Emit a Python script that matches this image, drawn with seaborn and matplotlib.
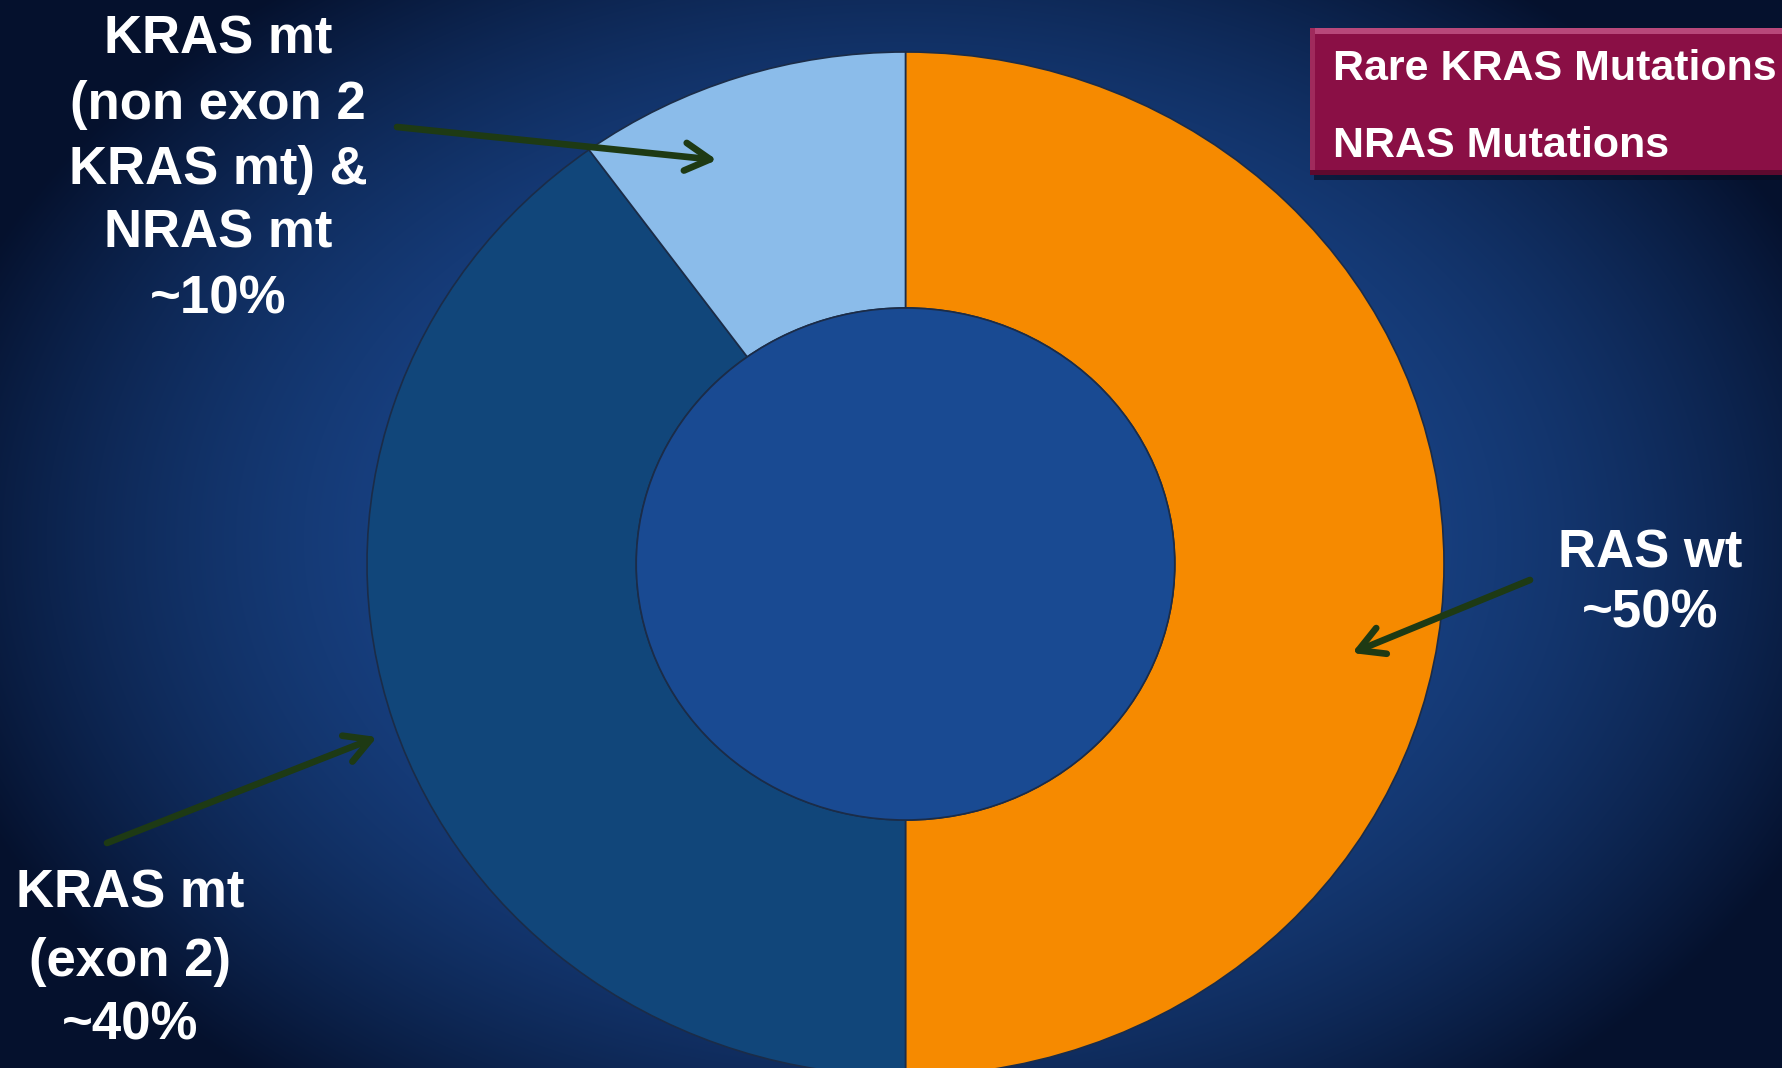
import numpy as np
import matplotlib
matplotlib.use("Agg")
import matplotlib.pyplot as plt
from matplotlib.patches import Rectangle, Circle, FancyArrowPatch
import seaborn as sns

# --- data -------------------------------------------------------------
segments = ["RAS wt", "KRAS mt (exon 2)", "KRAS mt (non exon 2) & NRAS mt"]
shares = [50, 40, 10]
segment_colors = ["#F68A00", "#11467A", "#8BBCEA"]

label_wt = ["RAS wt", "~50%"]
label_exon2 = ["KRAS mt", "(exon 2)", "~40%"]
label_other = ["KRAS mt", "(non exon 2", "KRAS mt) &", "NRAS mt", "~10%"]
legend_items = ["Rare KRAS Mutations", "NRAS Mutations"]

# --- style ------------------------------------------------------------
sns.set_theme(style="white")
plt.rcParams["font.family"] = ["Liberation Sans", "DejaVu Sans"]
palette = sns.color_palette(segment_colors)

W, H = 1783, 1068
fig = plt.figure(figsize=(W / 100, H / 100), dpi=100)

# radial blue background
bg = fig.add_axes([0, 0, 1, 1])
bg.set_axis_off()
yy, xx = np.mgrid[0:H, 0:W]
r = np.sqrt(((xx - 900) / 1000) ** 2 + ((yy - 540) / 700) ** 2)
t = np.clip(r, 0, 1) ** 2.3
c_in = np.array([28, 76, 150]) / 255
c_out = np.array([5, 17, 45]) / 255
img = c_in * (1 - t[..., None]) + c_out * t[..., None]
bg.imshow(img, extent=[0, W, H, 0], aspect="auto", zorder=0)
bg.set_xlim(0, W)
bg.set_ylim(H, 0)

# donut chart
cx, cy = 905.5, H - 564
rx, ry = 538.5, 512
ax = fig.add_axes([(cx - rx) / W, (cy - ry) / H, 2 * rx / W, 2 * ry / H])
ax.patch.set_alpha(0)
ax.pie(shares, colors=palette, startangle=90, counterclock=False, radius=1,
       wedgeprops=dict(width=0.5, edgecolor="#1b2c48", linewidth=1.2))
ax.add_patch(Circle((0, 0), 0.5, facecolor="#194A92", edgecolor="#1b2c48",
                    linewidth=1.2, zorder=5))
ax.set_aspect("auto")
ax.set_xlim(-1, 1)
ax.set_ylim(-1, 1)
ax.set_axis_off()

# overlay for labels, arrows and the key box
ov = fig.add_axes([0, 0, 1, 1])
ov.set_axis_off()
ov.patch.set_alpha(0)
ov.set_xlim(0, W)
ov.set_ylim(H, 0)

txt = dict(color="white", fontsize=38, fontweight="bold", ha="center", va="baseline")
for line, y in zip(label_other, [53, 119, 184, 248, 313]):
    ov.text(218, y, line, **txt)
for line, y in zip(label_exon2, [908, 976, 1040]):
    ov.text(130, y, line, **txt)
for line, y in zip(label_wt, [567, 628]):
    ov.text(1650, y, line, **txt)

arrow_color = "#1E3A14"
for a, b in [((397, 127), (717, 160)), ((107, 843), (377, 737)), ((1530, 580), (1352, 653))]:
    ov.add_patch(FancyArrowPatch(a, b, arrowstyle="->,head_length=1.8,head_width=1.0",
                                 mutation_scale=10, linewidth=4.8, color=arrow_color,
                                 shrinkA=0, shrinkB=0, capstyle="round", joinstyle="round"))

# key box
ov.add_patch(Rectangle((1314, 32), 480, 148, facecolor="#050c20", alpha=0.6, linewidth=0))
ov.add_patch(Rectangle((1310, 28), 480, 147, facecolor="#8A0F45", linewidth=0))
ov.add_patch(Rectangle((1310, 28), 480, 6, facecolor="#B8487A", linewidth=0))
ov.add_patch(Rectangle((1310, 28), 5, 147, facecolor="#A02A5C", linewidth=0))
ov.add_patch(Rectangle((1310, 170), 480, 5, facecolor="#5E0A2E", linewidth=0))
for item, y in zip(legend_items, [80, 157]):
    ov.text(1333, y, item, color="white", fontsize=31, fontweight="bold",
            ha="left", va="baseline")

fig.savefig("out.png", dpi=100)
